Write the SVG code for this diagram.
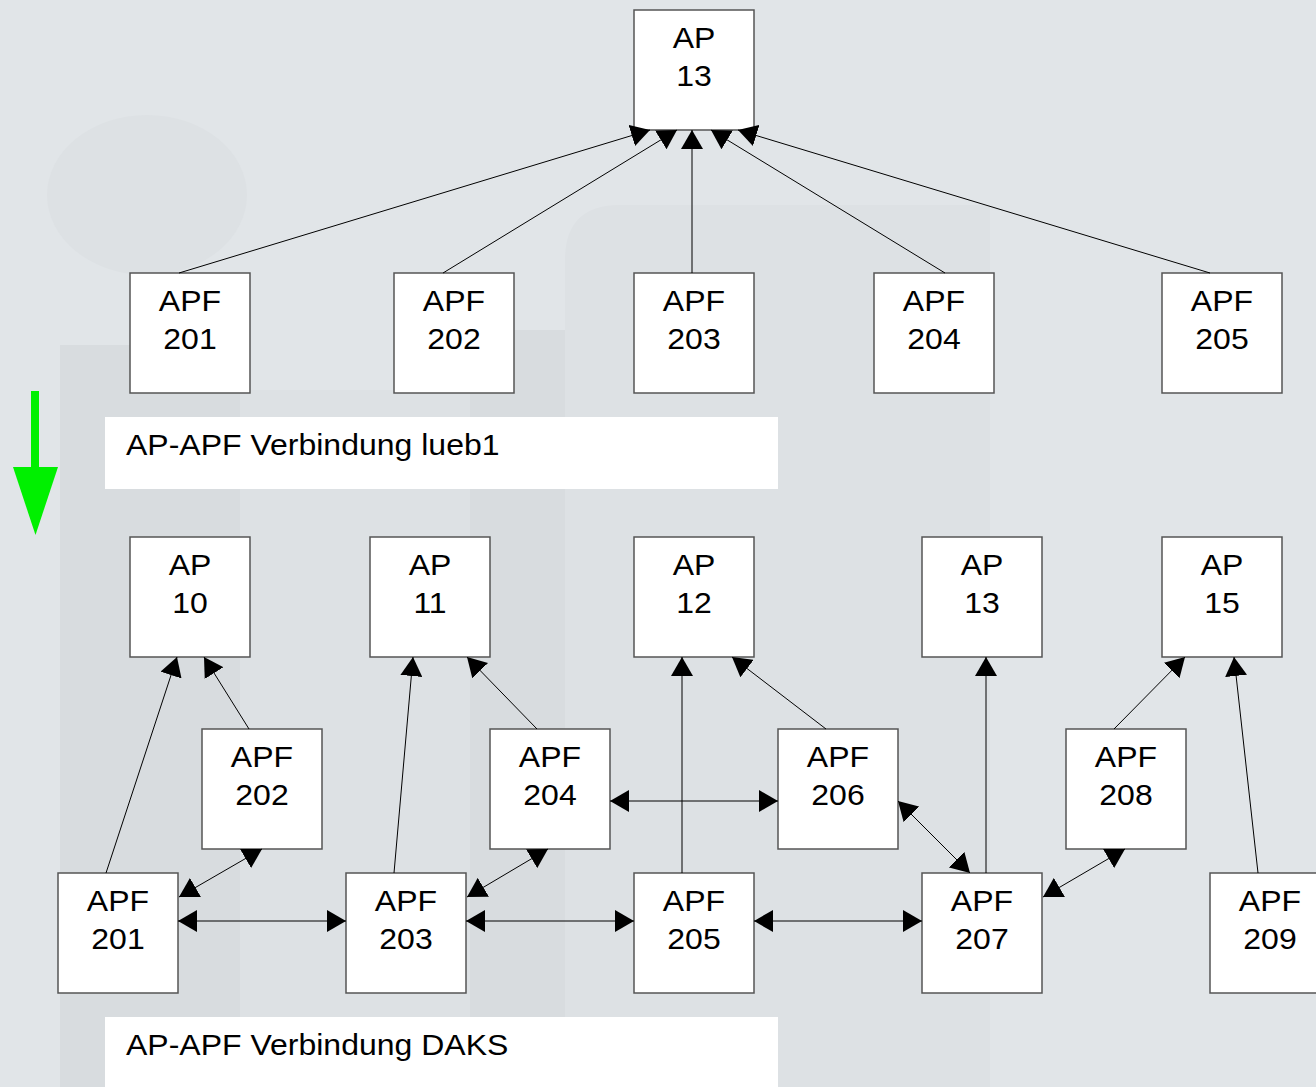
<svg xmlns="http://www.w3.org/2000/svg" width="1316" height="1087" viewBox="0 0 1316 1087">
<defs>
<style>
.box{fill:#fff;stroke:#555;stroke-width:1.5}
.lbl{font-family:"Liberation Sans","DejaVu Sans",sans-serif;font-size:32px;fill:#000;text-anchor:middle}
.cap{font-family:"Liberation Sans","DejaVu Sans",sans-serif;font-size:32px;fill:#000}
.con{stroke:#000;stroke-width:1;fill:none}
.one{marker-end:url(#ah)}
.two{marker-start:url(#ah);marker-end:url(#ah)}
</style>
<marker id="ah" viewBox="0 0 19 22" refX="19" refY="11" markerWidth="19" markerHeight="22" markerUnits="userSpaceOnUse" orient="auto-start-reverse">
<path d="M0,0 L19,11 L0,22 z" fill="#000"/>
</marker>
</defs>

<g id="background">
<rect x="0" y="0" width="1316" height="1087" fill="#e1e5e8"/>
<ellipse cx="147" cy="195" rx="100" ry="80" fill="#dde1e4"/>
<rect x="60" y="345" width="180" height="742" fill="#d8dcdf"/>
<rect x="240" y="390" width="230" height="697" fill="#dde1e4"/>
<rect x="470" y="330" width="95" height="757" fill="#d8dcdf"/>
<path d="M565,1087 V260 Q565,205 620,205 H990 V1087 z" fill="#dde1e4"/>
</g>

<g id="green-arrow">
<rect x="31" y="391" width="8" height="77" fill="#00f000"/>
<polygon points="13,467 58,467 35.5,535" fill="#00f000"/>
</g>

<g id="caption1" transform="translate(105,417)">
<rect x="0" y="0" width="673" height="72" fill="#fff"/>
<text class="cap" x="21" y="42.2" transform="scale(1,0.9)">AP-APF Verbindung lueb1</text>
</g>
<g id="caption2" transform="translate(105,1017)">
<rect x="0" y="0" width="673" height="75" fill="#fff"/>
<text class="cap" x="21" y="42.2" transform="scale(1,0.9)">AP-APF Verbindung DAKS</text>
</g>

<g id="top-AP13" transform="translate(634,10)"><rect class="box" width="120" height="120"/><text class="lbl" transform="scale(1,0.9)"><tspan x="60" y="42.5">AP</tspan><tspan x="60" y="85">13</tspan></text></g>
<g id="top-APF201" transform="translate(130,273)"><rect class="box" width="120" height="120"/><text class="lbl" transform="scale(1,0.9)"><tspan x="60" y="42.5">APF</tspan><tspan x="60" y="85">201</tspan></text></g>
<g id="top-APF202" transform="translate(394,273)"><rect class="box" width="120" height="120"/><text class="lbl" transform="scale(1,0.9)"><tspan x="60" y="42.5">APF</tspan><tspan x="60" y="85">202</tspan></text></g>
<g id="top-APF203" transform="translate(634,273)"><rect class="box" width="120" height="120"/><text class="lbl" transform="scale(1,0.9)"><tspan x="60" y="42.5">APF</tspan><tspan x="60" y="85">203</tspan></text></g>
<g id="top-APF204" transform="translate(874,273)"><rect class="box" width="120" height="120"/><text class="lbl" transform="scale(1,0.9)"><tspan x="60" y="42.5">APF</tspan><tspan x="60" y="85">204</tspan></text></g>
<g id="top-APF205" transform="translate(1162,273)"><rect class="box" width="120" height="120"/><text class="lbl" transform="scale(1,0.9)"><tspan x="60" y="42.5">APF</tspan><tspan x="60" y="85">205</tspan></text></g>

<g id="AP10" transform="translate(130,537)"><rect class="box" width="120" height="120"/><text class="lbl" transform="scale(1,0.9)"><tspan x="60" y="42.5">AP</tspan><tspan x="60" y="85">10</tspan></text></g>
<g id="AP11" transform="translate(370,537)"><rect class="box" width="120" height="120"/><text class="lbl" transform="scale(1,0.9)"><tspan x="60" y="42.5">AP</tspan><tspan x="60" y="85">11</tspan></text></g>
<g id="AP12" transform="translate(634,537)"><rect class="box" width="120" height="120"/><text class="lbl" transform="scale(1,0.9)"><tspan x="60" y="42.5">AP</tspan><tspan x="60" y="85">12</tspan></text></g>
<g id="AP13" transform="translate(922,537)"><rect class="box" width="120" height="120"/><text class="lbl" transform="scale(1,0.9)"><tspan x="60" y="42.5">AP</tspan><tspan x="60" y="85">13</tspan></text></g>
<g id="AP15" transform="translate(1162,537)"><rect class="box" width="120" height="120"/><text class="lbl" transform="scale(1,0.9)"><tspan x="60" y="42.5">AP</tspan><tspan x="60" y="85">15</tspan></text></g>

<g id="APF202" transform="translate(202,729)"><rect class="box" width="120" height="120"/><text class="lbl" transform="scale(1,0.9)"><tspan x="60" y="42.5">APF</tspan><tspan x="60" y="85">202</tspan></text></g>
<g id="APF204" transform="translate(490,729)"><rect class="box" width="120" height="120"/><text class="lbl" transform="scale(1,0.9)"><tspan x="60" y="42.5">APF</tspan><tspan x="60" y="85">204</tspan></text></g>
<g id="APF206" transform="translate(778,729)"><rect class="box" width="120" height="120"/><text class="lbl" transform="scale(1,0.9)"><tspan x="60" y="42.5">APF</tspan><tspan x="60" y="85">206</tspan></text></g>
<g id="APF208" transform="translate(1066,729)"><rect class="box" width="120" height="120"/><text class="lbl" transform="scale(1,0.9)"><tspan x="60" y="42.5">APF</tspan><tspan x="60" y="85">208</tspan></text></g>

<g id="APF201" transform="translate(58,873)"><rect class="box" width="120" height="120"/><text class="lbl" transform="scale(1,0.9)"><tspan x="60" y="42.5">APF</tspan><tspan x="60" y="85">201</tspan></text></g>
<g id="APF203" transform="translate(346,873)"><rect class="box" width="120" height="120"/><text class="lbl" transform="scale(1,0.9)"><tspan x="60" y="42.5">APF</tspan><tspan x="60" y="85">203</tspan></text></g>
<g id="APF205" transform="translate(634,873)"><rect class="box" width="120" height="120"/><text class="lbl" transform="scale(1,0.9)"><tspan x="60" y="42.5">APF</tspan><tspan x="60" y="85">205</tspan></text></g>
<g id="APF207" transform="translate(922,873)"><rect class="box" width="120" height="120"/><text class="lbl" transform="scale(1,0.9)"><tspan x="60" y="42.5">APF</tspan><tspan x="60" y="85">207</tspan></text></g>
<g id="APF209" transform="translate(1210,873)"><rect class="box" width="120" height="120"/><text class="lbl" transform="scale(1,0.9)"><tspan x="60" y="42.5">APF</tspan><tspan x="60" y="85">209</tspan></text></g>

<g id="connectors">
<line class="con one" x1="179" y1="273" x2="650" y2="130"/>
<line class="con one" x1="443" y1="273" x2="677" y2="130"/>
<line class="con one" x1="692" y1="273" x2="692" y2="130"/>
<line class="con one" x1="945" y1="273" x2="711" y2="130"/>
<line class="con one" x1="1210" y1="273" x2="738" y2="130"/>

<line class="con one" x1="106" y1="873" x2="177" y2="657"/>
<line class="con one" x1="249" y1="729" x2="204" y2="657"/>
<line class="con one" x1="394" y1="873" x2="413" y2="657"/>
<line class="con one" x1="537" y1="729" x2="467" y2="657"/>
<line class="con one" x1="682" y1="873" x2="682" y2="657"/>
<line class="con one" x1="826" y1="729" x2="732" y2="657"/>
<line class="con one" x1="986" y1="873" x2="986" y2="657"/>
<line class="con one" x1="1114" y1="729" x2="1185" y2="657"/>
<line class="con one" x1="1258" y1="873" x2="1234" y2="657"/>

<line class="con two" x1="179" y1="897" x2="262" y2="849"/>
<line class="con two" x1="467" y1="897" x2="548" y2="849"/>
<line class="con two" x1="1043" y1="897" x2="1125" y2="849"/>
<line class="con two" x1="898" y1="801" x2="970" y2="873"/>
<line class="con two" x1="610" y1="801" x2="778" y2="801"/>
<line class="con two" x1="178" y1="921" x2="346" y2="921"/>
<line class="con two" x1="466" y1="921" x2="634" y2="921"/>
<line class="con two" x1="754" y1="921" x2="922" y2="921"/>
</g>
</svg>
